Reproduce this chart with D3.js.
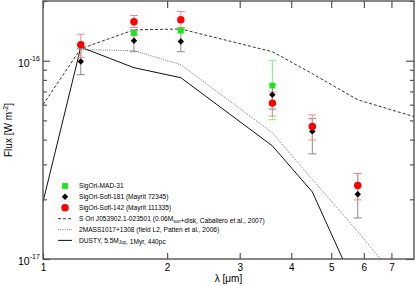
<!DOCTYPE html>
<html>
<head>
<meta charset="utf-8">
<script src="https://cdn.jsdelivr.net/npm/d3@7"></script>
<style>
  body { margin: 0; background: #fff; }
  svg { font-family: "Liberation Sans", Arial, sans-serif; }
</style>
</head>
<body>
<div id="chart"></div>
<script>
// photometric bands (micron)
var bands = [1.235, 1.662, 2.159, 3.6, 4.5, 5.8];

// SigOri-MAD-31
var madFlux = [null, 1.38e-16, 1.42e-16, 0.75e-16, null, null];
var madLo   = [null, 1.34e-16, 1.38e-16, 0.504e-16, null, null];
var madHi   = [null, 1.42e-16, 1.46e-16, 1.00e-16, null, null];

// SigOri-Sofl-181
var s181Flux = [0.99e-16, 1.26e-16, 1.25e-16, 0.673e-16, 0.44e-16, 0.212e-16];
var s181Lo   = [0.85e-16, 1.11e-16, 1.11e-16, 0.57e-16, 0.339e-16, 0.161e-16];
var s181Hi   = [1.15e-16, 1.43e-16, 1.43e-16, 0.756e-16, 0.51e-16, 0.27e-16];

// SigOri-Sofl-142
var s142Flux = [1.205e-16, 1.57e-16, 1.61e-16, 0.611e-16, 0.466e-16, 0.2345e-16];
var s142Lo   = [1.04e-16, 1.47e-16, 1.47e-16, 0.526e-16, 0.398e-16, 0.1986e-16];
var s142Hi   = [1.36e-16, 1.69e-16, 1.77e-16, 0.695e-16, 0.533e-16, 0.27e-16];

// model SEDs
var modelWave   = [1.0, 1.235, 1.662, 2.159, 3.6, 4.5, 5.8, 8.0];
var caballero   = [0.60e-16, 1.15e-16, 1.43e-16, 1.445e-16, 1.11e-16, 0.86e-16, 0.635e-16, 0.52e-16];
var pattenWave  = [1.235, 1.662, 2.159, 3.6, 4.5, 5.8, 8.0];
var patten      = [1.137e-16, 1.123e-16, 0.955e-16, 0.433e-16, 0.252e-16, 0.1375e-16, 0.0615e-16];
var dustyWave   = [1.0, 1.235, 1.662, 2.159, 3.6, 4.5, 5.8];
var dusty       = [0.194e-16, 1.17e-16, 0.922e-16, 0.821e-16, 0.372e-16, 0.218e-16, 0.068e-16];

var xTicks = [1, 2, 3, 4, 5, 6, 7];
var yMajor = [1e-17, 1e-16];
var yMinor = [2e-17, 3e-17, 4e-17, 5e-17, 6e-17, 7e-17, 8e-17, 9e-17, 2e-16];

var width = 415,
    height = 286,
    pl = 43, pr = 414, pt = 1, pb = 259

var svg = d3.select("#chart").append("svg")
    .attr("width", width)
    .attr("height", height)

var x = d3.scaleLog().domain([1, 7.94]).range([pl, pr])
var y = d3.scaleLog().domain([1e-17, 2e-16]).range([pb, pt])

svg.append("clipPath").attr("id", "clip")
  .append("rect")
    .attr("x", pl).attr("y", pt)
    .attr("width", pr - pl).attr("height", pb - pt)

var plot = svg.append("g").attr("clip-path", "url(#clip)")

// model curves
function curve(wave, flux, dash, color, w) {
    var pts = wave.map(function(d, i) { return [d, flux[i]]; })
    plot.append("path")
        .datum(pts)
        .attr("fill", "none")
        .attr("stroke", color)
        .attr("stroke-width", w)
        .attr("stroke-dasharray", dash)
        .attr("d", d3.line().x(function(d) { return x(d[0]); }).y(function(d) { return y(d[1]); }))
}
curve(modelWave, caballero, "3,2", "#333", 1)
curve(pattenWave, patten, "1,1.2", "#666", 0.9)
curve(dustyWave, dusty, null, "#111", 1)

// error bars
function errbars(lo, hi, color) {
    bands.forEach(function(b, i) {
        if (lo[i] == null) return
        var cx = x(b)
        var g = plot.append("g").attr("stroke", color).attr("stroke-width", 1)
        g.append("line").attr("x1", cx).attr("x2", cx).attr("y1", y(lo[i])).attr("y2", y(hi[i]))
        g.append("line").attr("x1", cx - 4).attr("x2", cx + 4).attr("y1", y(lo[i])).attr("y2", y(lo[i]))
        g.append("line").attr("x1", cx - 4).attr("x2", cx + 4).attr("y1", y(hi[i])).attr("y2", y(hi[i]))
    })
}
errbars(madLo, madHi, "#7ef07e")
errbars(s181Lo, s181Hi, "#8a8a8a")
errbars(s142Lo, s142Hi, "#f48a8a")

var diamond = d3.symbolDiamond2 || d3.symbolDiamond

function markers(flux, type, size, color) {
    bands.forEach(function(b, i) {
        if (flux[i] == null) return
        plot.append("path")
            .attr("transform", "translate(" + x(b) + "," + y(flux[i]) + ")")
            .attr("d", d3.symbol().type(type).size(size)())
            .attr("fill", color)
    })
}
markers(madFlux, d3.symbolSquare, 34, "#1ee61e")
markers(s181Flux, diamond, 26, "#000")
markers(s142Flux, d3.symbolCircle, 44, "#f00")

// axes
var axisColor = "#555"
function style(g) {
    g.select(".domain").remove()
    g.selectAll(".tick line").attr("stroke", axisColor).attr("stroke-width", 1.2)
    g.selectAll("text").attr("fill", "#000")
}

svg.append("g")
    .attr("transform", "translate(0," + pb + ")")
    .call(d3.axisBottom(x).tickValues(xTicks).tickSize(-6).tickPadding(5).tickFormat(d3.format("d")))
    .call(style)
    .selectAll("text").attr("font-size", 10)

svg.append("g")
    .attr("transform", "translate(0," + pt + ")")
    .call(d3.axisTop(x).tickValues(xTicks).tickSize(-7).tickFormat(""))
    .call(style)

svg.append("g")
    .attr("transform", "translate(" + pl + ",0)")
    .call(d3.axisLeft(y).tickValues(yMajor).tickSize(-7).tickFormat(""))
    .call(style)
svg.append("g")
    .attr("transform", "translate(" + pl + ",0)")
    .call(d3.axisLeft(y).tickValues(yMinor).tickSize(-4).tickFormat(""))
    .call(style)
svg.append("g")
    .attr("transform", "translate(" + pr + ",0)")
    .call(d3.axisRight(y).tickValues(yMajor).tickSize(-8).tickFormat(""))
    .call(style)
svg.append("g")
    .attr("transform", "translate(" + pr + ",0)")
    .call(d3.axisRight(y).tickValues(yMinor).tickSize(-4).tickFormat(""))
    .call(style)

svg.append("rect")
    .attr("x", pl).attr("y", pt)
    .attr("width", pr - pl).attr("height", pb - pt)
    .attr("fill", "none")
    .attr("stroke", axisColor)
    .attr("stroke-width", 1.4)

// y tick labels 10^n
yMajor.forEach(function(v) {
    var t = svg.append("text")
        .attr("x", 18)
        .attr("y", y(v) + 6)
        .attr("font-size", 10.5)
    t.append("tspan").text("10")
    t.append("tspan").attr("dy", -6).attr("font-size", 7).text("-" + Math.round(-Math.log10(v)))
})

svg.append("text")
    .attr("transform", "translate(12," + ((pt + pb) / 2) + ") rotate(-90)")
    .attr("text-anchor", "middle")
    .attr("font-size", 10)
    .call(function(t) {
        t.append("tspan").text("Flux [W m")
        t.append("tspan").attr("dy", -4).attr("font-size", 7).text("-2")
        t.append("tspan").attr("dy", 4).text("]")
    })

svg.append("text")
    .attr("x", (pl + pr) / 2)
    .attr("y", 282)
    .attr("text-anchor", "middle")
    .attr("font-size", 10)
    .text("λ [μm]")

// legend
var legend = svg.append("g").attr("font-size", 6.6)
var rows = [186, 196.8, 207.7, 218.7, 229.7, 240.4]
var lx = 65, tx = 79

legend.append("path").attr("transform", "translate(" + lx + "," + rows[0] + ")")
    .attr("d", d3.symbol().type(d3.symbolSquare).size(34)()).attr("fill", "#1ee61e")
legend.append("path").attr("transform", "translate(" + lx + "," + rows[1] + ")")
    .attr("d", d3.symbol().type(diamond).size(26)()).attr("fill", "#000")
legend.append("path").attr("transform", "translate(" + lx + "," + rows[2] + ")")
    .attr("d", d3.symbol().type(d3.symbolCircle).size(44)()).attr("fill", "#f00")
legend.append("line").attr("x1", 58).attr("x2", 72).attr("y1", rows[3]).attr("y2", rows[3])
    .attr("stroke", "#333").attr("stroke-dasharray", "3,2")
legend.append("line").attr("x1", 58).attr("x2", 72).attr("y1", rows[4]).attr("y2", rows[4])
    .attr("stroke", "#666").attr("stroke-width", 0.9).attr("stroke-dasharray", "1,1.2")
legend.append("line").attr("x1", 58).attr("x2", 72).attr("y1", rows[5]).attr("y2", rows[5])
    .attr("stroke", "#111")

function label(i, parts) {
    var t = legend.append("text").attr("x", tx).attr("y", rows[i] + 2.3)
    parts.forEach(function(p) {
        if (typeof p == "string") t.append("tspan").text(p)
        else {
            t.append("tspan").attr("dy", 1.5).attr("font-size", 4.5).text(p.sub)
            t.append("tspan").attr("dy", -1.5).text("")
        }
    })
}
label(0, ["SigOri-MAD-31"])
label(1, ["SigOri-Sofl-181 (Mayrit 72345)"])
label(2, ["SigOri-Sofl-142 (Mayrit 111335)"])
label(3, ["S Ori J053902.1-023501 (0.06M", {sub: "sun"}, "+disk, Caballero et al., 2007)"])
label(4, ["2MASS1017+1308 (field L2, Patten et al., 2006)"])
label(5, ["DUSTY, 5.5M", {sub: "Jup"}, ", 1Myr, 440pc"])
</script>
</body>
</html>
